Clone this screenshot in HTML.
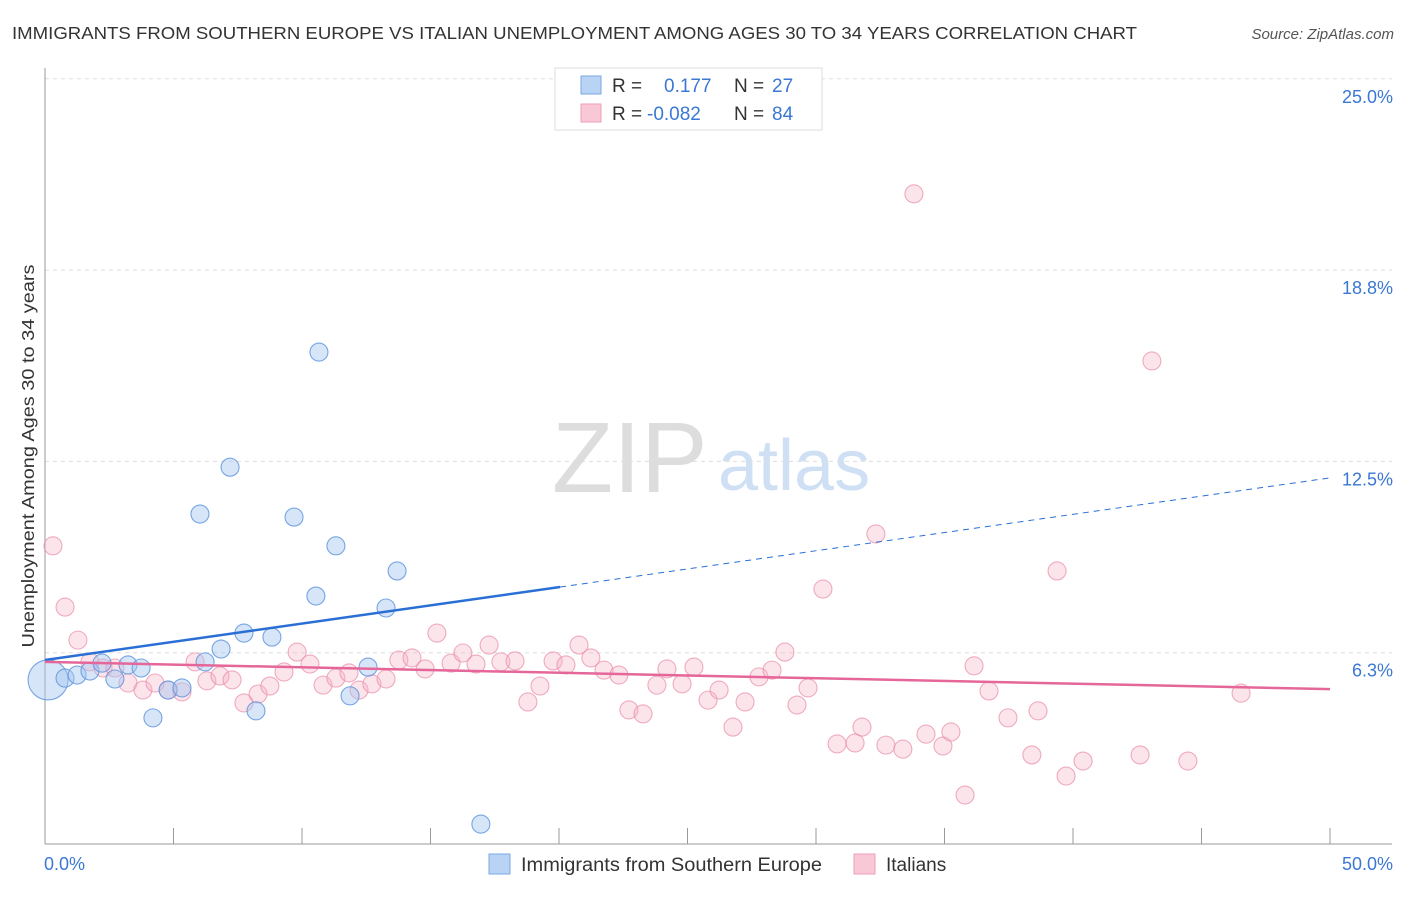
<!DOCTYPE html>
<html><head><meta charset="utf-8">
<style>
body{margin:0;background:#fff;font-family:"Liberation Sans",sans-serif;}
svg text{font-family:"Liberation Sans",sans-serif;}
</style></head>
<body>
<svg id="chart" width="1406" height="892" xmlns="http://www.w3.org/2000/svg">
<text x="12" y="39" font-size="17.5" fill="#333" textLength="1125" lengthAdjust="spacingAndGlyphs">IMMIGRANTS FROM SOUTHERN EUROPE VS ITALIAN UNEMPLOYMENT AMONG AGES 30 TO 34 YEARS CORRELATION CHART</text>
<text x="1394" y="39" font-size="15" fill="#555" text-anchor="end" font-style="italic">Source: ZipAtlas.com</text>
<text x="552" y="492" font-size="100" fill="#ddd" font-family="Liberation Serif">ZIP</text>
<text x="718" y="490" font-size="72" fill="#cfe0f5">atlas</text>
<g id="grid"></g>
<g id="axes"></g>
<g id="pts"></g>
<g id="trend"></g>
<text transform="translate(34,456) rotate(-90)" font-size="17.5" fill="#333" text-anchor="middle" textLength="383" lengthAdjust="spacingAndGlyphs">Unemployment Among Ages 30 to 34 years</text>
<g>
<rect x="555" y="68" width="267" height="62" fill="#fff" stroke="#ddd"/>
<rect x="581" y="76" width="20" height="18" fill="#b8d3f4" stroke="#7aa8e6"/>
<rect x="581" y="104" width="20" height="18" fill="#f9c8d6" stroke="#ee9fb6"/>
<text x="612" y="92" font-size="19" fill="#333">R =</text>
<text x="664" y="92" font-size="19" fill="#3a78d4">0.177</text>
<text x="734" y="92" font-size="19" fill="#333">N =</text>
<text x="772" y="92" font-size="19" fill="#3a78d4">27</text>
<text x="612" y="120" font-size="19" fill="#333">R =</text>
<text x="647" y="120" font-size="19" fill="#3a78d4">-0.082</text>
<text x="734" y="120" font-size="19" fill="#333">N =</text>
<text x="772" y="120" font-size="19" fill="#3a78d4">84</text>
</g>
<g>
<rect x="489" y="854" width="21" height="20" fill="#b8d3f4" stroke="#7aa8e6"/>
<text x="521" y="871" font-size="19" fill="#333" textLength="301" lengthAdjust="spacingAndGlyphs">Immigrants from Southern Europe</text>
<rect x="854" y="854" width="21" height="20" fill="#f9c8d6" stroke="#ee9fb6"/>
<text x="886" y="871" font-size="19" fill="#333">Italians</text>
</g>
</svg>
<script>
const yTicks=[25,18.75,12.5,6.25];
const yTickLabels=["25.0%","18.8%","12.5%","6.3%"];
const xTicks=[0,5,10,15,20,25,30,35,40,45,50];
const xLabels=["0.0%","50.0%"];
const blueX=[0.12,0.78,1.25,1.75,2.22,2.72,3.23,3.74,4.20,4.79,5.33,6.03,6.23,6.85,7.20,7.74,8.21,8.83,9.69,10.54,10.66,11.32,11.87,12.57,13.27,13.70,16.96];
const blueY=[5.36,5.42,5.52,5.65,5.91,5.39,5.85,5.75,4.12,5.03,5.10,10.78,5.95,6.37,12.31,6.89,4.35,6.76,10.68,8.10,16.07,9.74,4.84,5.78,7.71,8.92,0.65];
const pinkX=[0.31,0.78,1.28,1.75,2.26,2.72,3.23,3.81,4.28,4.79,5.33,5.84,6.30,6.81,7.28,7.74,8.29,8.75,9.30,9.81,10.31,10.82,11.32,11.83,12.22,12.72,13.27,13.77,14.28,14.79,15.25,15.80,16.26,16.77,17.28,17.74,18.29,18.79,19.26,19.77,20.27,20.78,21.24,21.75,22.33,22.72,23.27,23.81,24.20,24.79,25.25,25.80,26.23,26.77,27.24,27.78,28.29,28.79,29.26,29.69,30.27,30.82,31.52,31.79,32.33,32.72,33.38,33.81,34.28,34.94,35.25,35.80,36.15,36.73,37.47,38.40,38.64,39.38,39.73,40.39,42.61,43.07,44.47,46.54];
const pinkY=[9.74,7.74,6.66,5.95,5.75,5.75,5.26,5.03,5.26,5.03,4.97,5.95,5.33,5.49,5.36,4.61,4.90,5.16,5.62,6.27,5.88,5.19,5.42,5.59,5.03,5.23,5.39,6.01,6.08,5.72,6.89,5.91,6.24,5.88,6.50,5.95,5.98,4.64,5.16,5.98,5.85,6.50,6.08,5.68,5.52,4.38,4.25,5.19,5.72,5.23,5.78,4.70,5.03,3.82,4.64,5.46,5.68,6.27,4.54,5.10,8.33,3.27,3.30,3.82,10.13,3.23,3.10,21.24,3.59,3.20,3.66,1.60,5.82,5.00,4.12,2.91,4.35,8.92,2.22,2.71,2.91,15.78,2.71,4.93];
const blueTrend=[6.01,11.96];
const blueSolidEnd=20.04;
const pinkTrend=[5.95,5.06];
const NS="http://www.w3.org/2000/svg";
const X=v=>45+v/50*1285;
const Y=v=>844-v*30.61;
function mk(tag,parent,attrs){const e=document.createElementNS(NS,tag);for(const k in attrs)e.setAttribute(k,attrs[k]);parent.appendChild(e);return e;}
const grid=document.getElementById('grid'),axes=document.getElementById('axes'),pts=document.getElementById('pts'),trend=document.getElementById('trend');
yTicks.forEach((t,i)=>{
 const l=mk('line',grid,{x1:45,x2:1392,y1:Y(t),y2:Y(t),stroke:'#ddd','stroke-dasharray':'4,4'});
 
 
 const tx=mk('text',axes,{x:1393,y:Y(t)+24,'font-size':18,fill:'#3a78d4','text-anchor':'end'});
 tx.textContent=yTickLabels[i];
 
 
});
const ax=mk('line',axes,{x1:45,x2:45,y1:68,y2:844,stroke:'#999'});


const bx=mk('line',axes,{x1:45,x2:1392,y1:844,y2:844,stroke:'#999'});


xTicks.forEach(t=>{
 const l=mk('line',axes,{x1:X(t),x2:X(t),y1:828,y2:844,stroke:'#999'});
 
 
});
const xl0=mk('text',axes,{x:44,y:870,'font-size':18,fill:'#3a78d4'});xl0.textContent=xLabels[0];


const xl1=mk('text',axes,{x:1393,y:870,'font-size':18,fill:'#3a78d4','text-anchor':'end'});xl1.textContent=xLabels[1];


pinkX.forEach((v,i)=>{
 const c=mk('circle',pts,{cx:X(v),cy:Y(pinkY[i]),r:9,fill:'rgba(246,178,198,0.35)',stroke:'rgba(232,140,168,0.7)','stroke-width':1.1});
 
 
});
blueX.forEach((v,i)=>{
 const c=mk('circle',pts,{cx:X(v),cy:Y(blueY[i]),r:i==0?20:9,fill:'rgba(165,198,240,0.45)',stroke:'rgba(90,145,220,0.8)','stroke-width':1.1});
 
 
});
const by=v=>blueTrend[0]+(blueTrend[1]-blueTrend[0])*v/50;
const b1=mk('line',trend,{x1:X(0),y1:Y(by(0)),x2:X(blueSolidEnd),y2:Y(by(blueSolidEnd)),stroke:'#2a6fd6','stroke-width':2.5});


const b2=mk('line',trend,{x1:X(blueSolidEnd),y1:Y(by(blueSolidEnd)),x2:X(50),y2:Y(by(50)),stroke:'#2a6fd6','stroke-width':1,'stroke-dasharray':'6,5'});


const p1=mk('line',trend,{x1:X(0),y1:Y(pinkTrend[0]),x2:X(50),y2:Y(pinkTrend[1]),stroke:'#e5679a','stroke-width':2.5});


</script>
</body></html>
